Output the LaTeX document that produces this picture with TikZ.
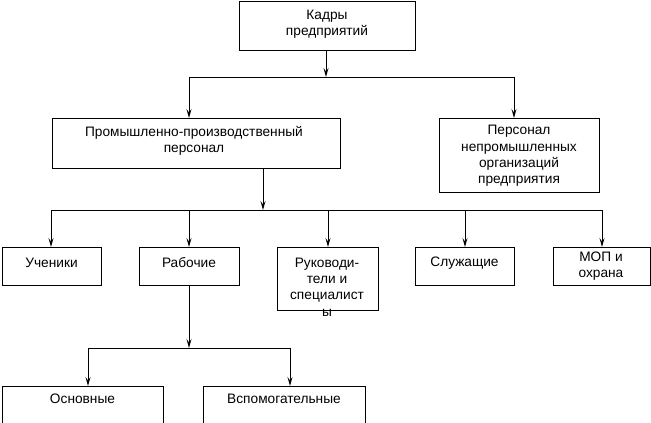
\documentclass[tikz,border=0pt]{standalone}
\usepackage{fontspec}
\setmainfont{Liberation Sans}
\usetikzlibrary{arrows.meta,calc}
\begin{document}
\begin{tikzpicture}[x=1pt,y=-1pt,
  box/.style={draw,line width=1pt,inner sep=0pt,anchor=north west},
  txt/.style={inner sep=0pt,align=center,font=\fontsize{13.7}{16.4}\selectfont},
  conn/.style={line width=1pt},
  arr/.style={line width=1pt,-{Stealth[length=9pt,width=5pt,inset=3.5pt]}}]
\useasboundingbox (0,0) rectangle (651,423);
% boxes
\node[box,minimum width=176pt,minimum height=49pt] (kadry) at (239,1) {};
\node[txt] (tkadry) at (327,24) {Кадры\\предприятий};
\node[box,minimum width=288pt,minimum height=50pt] (ppp) at (52,118) {};
\node[txt] (tppp) at (194,141) {Промышленно-производственный\\персонал};
\node[box,minimum width=160pt,minimum height=74pt] (npo) at (439,118) {};
\node[txt] (tnpo) at (519,156) {Персонал\\непромышленных\\организаций\\предприятия};
\node[box,minimum width=99pt,minimum height=38pt] (uch) at (2,247) {};
\node[txt] (tuch) at (51.5,263) {Ученики};
\node[box,minimum width=100pt,minimum height=38pt] (rab) at (139,247) {};
\node[txt] (trab) at (189,263) {Рабочие};
\node[box,minimum width=101pt,minimum height=63pt] (ruk) at (277,247) {};
\node[txt] (truk) at (327,287) {Руководи-\\тели и\\специалист\\ы};
\node[box,minimum width=99pt,minimum height=38pt] (slu) at (415,247) {};
\node[txt] (tslu) at (464.5,263) {Служащие};
\node[box,minimum width=97pt,minimum height=38pt] (mop) at (553,247) {};
\node[txt] (tmop) at (601,266) {МОП и\\охрана};
\node[box,minimum width=161pt,minimum height=50pt] (osn) at (2,386) {};
\node[txt] (tosn) at (82.5,399) {Основные};
\node[box,minimum width=162pt,minimum height=50pt] (vsp) at (203,386) {};
\node[txt] (tvsp) at (284,399) {Вспомогательные};
% junctions
\coordinate (j1) at (326,77);
\coordinate (j1l) at (189,77);
\coordinate (j1r) at (514,77);
\coordinate (j2) at (263,210);
\coordinate (j2a) at (51,210);
\coordinate (j2b) at (189,210);
\coordinate (j2c) at (328,210);
\coordinate (j2d) at (465,210);
\coordinate (j2e) at (602,210);
\coordinate (j3) at (189,348);
\coordinate (j3l) at (88,348);
\coordinate (j3r) at (290,348);
% connectors
\draw[arr] (kadry.south -| j1) -- (j1);
\draw[conn] (j1l) -- (j1r);
\draw[arr] (j1l) -- (j1l |- ppp.north);
\draw[arr] (j1r) -- (j1r |- npo.north);
\draw[arr] (ppp.south -| j2) -- (j2);
\draw[conn] (j2a) -- (j2e);
\draw[arr] (j2a) -- (j2a |- uch.north);
\draw[arr] (j2b) -- (j2b |- rab.north);
\draw[arr] (j2c) -- (j2c |- ruk.north);
\draw[arr] (j2d) -- (j2d |- slu.north);
\draw[arr] (j2e) -- (j2e |- mop.north);
\draw[arr] (rab.south -| j3) -- (j3);
\draw[conn] (j3l) -- (j3r);
\draw[arr] (j3l) -- (j3l |- osn.north);
\draw[arr] (j3r) -- (j3r |- vsp.north);
\end{tikzpicture}
\end{document}
